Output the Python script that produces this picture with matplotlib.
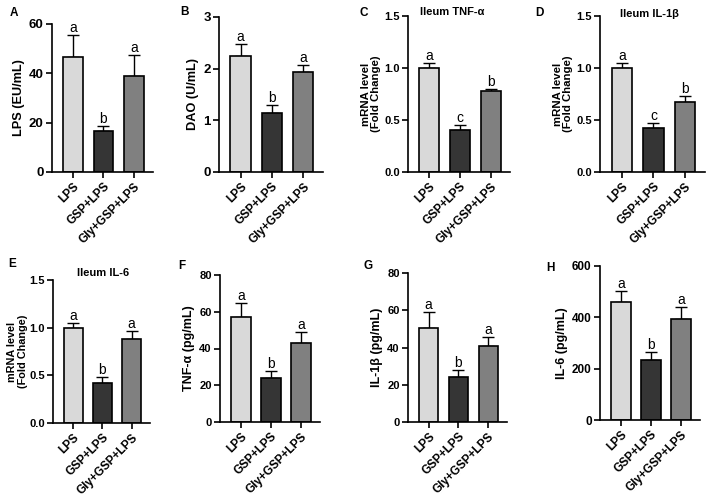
import numpy as np
import matplotlib
matplotlib.use("Agg")
import matplotlib.pyplot as plt

plt.rcParams['font.family'] = ['Liberation Sans', 'DejaVu Sans']

groups = ['LPS', 'GSP+LPS', 'Gly+GSP+LPS']
colors = ['#d9d9d9', '#353535', '#808080']

# mean values and upper error (SEM) per panel
lps_mean = [46.5, 16.5, 38.8]
lps_err = [9.0, 2.3, 8.7]
dao_mean = [2.25, 1.15, 1.93]
dao_err = [0.22, 0.14, 0.14]
tnf_mrna_mean = [1.00, 0.40, 0.78]
tnf_mrna_err = [0.05, 0.05, 0.02]
il1b_mrna_mean = [1.00, 0.42, 0.67]
il1b_mrna_err = [0.05, 0.05, 0.06]
il6_mrna_mean = [1.00, 0.42, 0.88]
il6_mrna_err = [0.05, 0.06, 0.08]
tnf_mean = [57.0, 24.0, 43.0]
tnf_err = [8.0, 3.5, 6.0]
il1b_mean = [50.5, 24.0, 41.0]
il1b_err = [8.5, 4.0, 4.5]
il6_mean = [460, 233, 393]
il6_err = [42, 30, 47]

letters_A = ['a', 'b', 'a']
letters_C = ['a', 'c', 'b']

mrna_label = 'mRNA level\n(Fold Change)'

panels = [
    # letter, axes rect in px (left, top, right, bottom), mean, err, ymax, ticks, ylabel, sig, fmt, tick size, label size, labelpad
    ('A', (52, 24, 153, 172), lps_mean, lps_err, 60, [0, 20, 40, 60], 'LPS (EU/mL)', letters_A, '{:.0f}', 9.5, 9.2, 3),
    ('B', (219, 17, 323, 172), dao_mean, dao_err, 3, [0, 1, 2, 3], 'DAO (U/mL)', letters_A, '{:.0f}', 9.5, 9.2, 3),
    ('C', (408, 16, 510, 172), tnf_mrna_mean, tnf_mrna_err, 1.5, [0, 0.5, 1.0, 1.5], mrna_label, letters_C, '{:.1f}', 8, 8.2, 2),
    ('D', (600, 16, 705, 172), il1b_mrna_mean, il1b_mrna_err, 1.5, [0, 0.5, 1.0, 1.5], mrna_label, letters_C, '{:.1f}', 8, 8.2, 2),
    ('E', (53, 280, 150, 423), il6_mrna_mean, il6_mrna_err, 1.5, [0, 0.5, 1.0, 1.5], mrna_label, letters_A, '{:.1f}', 8, 7.8, 1),
    ('F', (220, 275, 320, 422), tnf_mean, tnf_err, 80, [0, 20, 40, 60, 80], 'TNF-α (pg/mL)', letters_A, '{:.0f}', 8, 9, 3),
    ('G', (408, 273, 507, 422), il1b_mean, il1b_err, 80, [0, 20, 40, 60, 80], 'IL-1β (pg/mL)', letters_A, '{:.0f}', 8, 9, 3),
    ('H', (600, 266, 700, 420), il6_mean, il6_err, 600, [0, 200, 400, 600], 'IL-6 (pg/mL)', letters_A, '{:.0f}', 8.5, 9, 3),
]

# panel letters and titles, pixel positions (x, y from top)
letter_pos = {'A': (10, 13), 'B': (180, 12), 'C': (359, 13), 'D': (535, 13),
              'E': (8, 264), 'F': (178, 266), 'G': (363, 266), 'H': (546, 268)}
titles = [('Ileum TNF-α', 452, 12), ('Ileum IL-1β', 649, 14), ('Ileum IL-6', 103, 273)]

W, H = 708, 494
fig = plt.figure(figsize=(W / 100, H / 100), dpi=100)

for letter, (l, t, r, b), mean, err, ymax, ticks, ylabel, sig, fmt, tsize, lsize, lpad in panels:
    ax = fig.add_axes([l / W, 1 - b / H, (r - l) / W, (b - t) / H])
    x = np.arange(3)
    ax.bar(x, mean, width=0.65, color=colors, edgecolor='black', linewidth=1.2, zorder=2)
    ax.errorbar(x, mean, yerr=[[0, 0, 0], err], fmt='none', ecolor='black',
                elinewidth=1.0, capsize=4.5, capthick=1.0, zorder=1)
    for xi, m, e, s in zip(x, mean, err, sig):
        ax.text(xi, m + e, s, ha='center', va='bottom', fontsize=10)
    ax.set_xlim(-0.69, 2.63)
    ax.set_ylim(0, ymax)
    ax.set_yticks(ticks)
    ax.set_yticklabels([fmt.format(v) for v in ticks], fontsize=tsize, fontweight='bold')
    ax.set_xticks(x)
    ax.set_xticklabels(groups, rotation=45, ha='right', rotation_mode='anchor',
                       fontsize=8.5, fontweight='bold')
    ax.spines['top'].set_visible(False)
    ax.spines['right'].set_visible(False)
    for sp in ['left', 'bottom']:
        ax.spines[sp].set_linewidth(1.2)
    ax.tick_params(width=1.2, length=4, pad=2)
    ax.set_ylabel(ylabel, fontsize=lsize, fontweight='bold', linespacing=1.05, labelpad=lpad)
    lx, ly = letter_pos[letter]
    fig.text(lx / W, 1 - ly / H, letter, fontsize=8.5, fontweight='bold', ha='left', va='center')

for txt, tx, ty in titles:
    fig.text(tx / W, 1 - ty / H, txt, fontsize=8, fontweight='bold', ha='center', va='center')

fig.savefig('out.png', dpi=100)
